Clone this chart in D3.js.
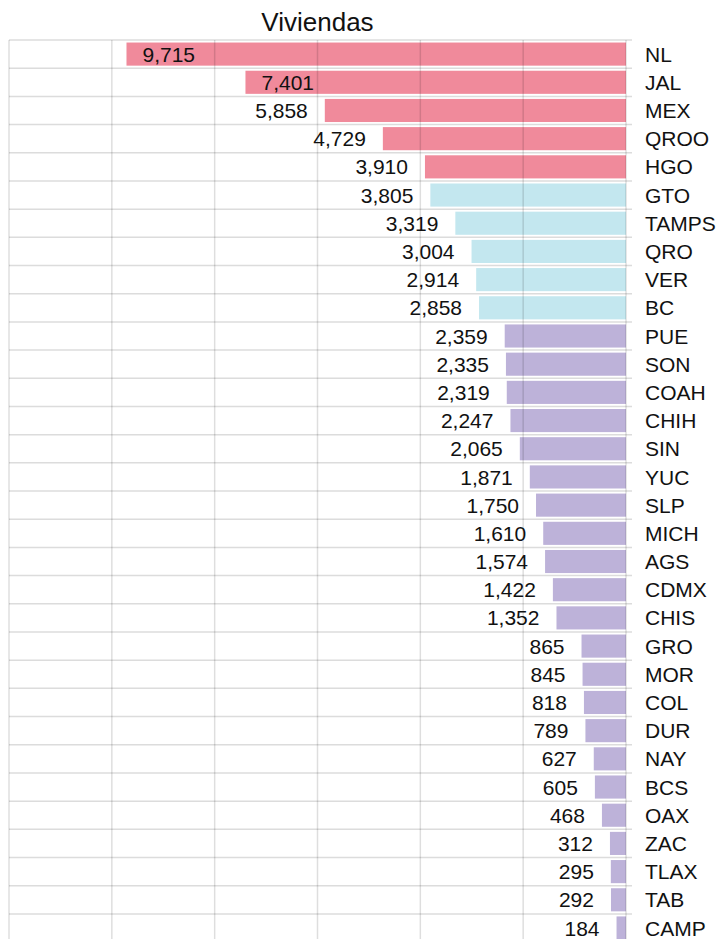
<!DOCTYPE html>
<html>
<head>
<meta charset="utf-8">
<script src="https://cdn.jsdelivr.net/npm/d3@7"></script>
<style>
  body { margin: 0; background: #fff; }
  svg { display: block; font-family: "Liberation Sans", Arial, sans-serif; }
</style>
</head>
<body>
<div id="chart"></div>
<script>
var states = ["NL", "JAL", "MEX", "QROO", "HGO", "GTO", "TAMPS", "QRO", "VER", "BC",
    "PUE", "SON", "COAH", "CHIH", "SIN", "YUC", "SLP", "MICH", "AGS", "CDMX", "CHIS",
    "GRO", "MOR", "COL", "DUR", "NAY", "BCS", "OAX", "ZAC", "TLAX", "TAB", "CAMP"];
var viviendas = [9715, 7401, 5858, 4729, 3910, 3805, 3319, 3004, 2914, 2858,
    2359, 2335, 2319, 2247, 2065, 1871, 1750, 1610, 1574, 1422, 1352,
    865, 845, 818, 789, 627, 605, 468, 312, 295, 292, 184];
var groups = [0, 0, 0, 0, 0, 1, 1, 1, 1, 1,
    2, 2, 2, 2, 2, 2, 2, 2, 2, 2, 2,
    2, 2, 2, 2, 2, 2, 2, 2, 2, 2, 2];
var groupColors = ["#f08a9b", "#c3e7ef", "#bdb2d9"];
var xTicks = [0, 2000, 4000, 6000, 8000, 10000, 12000];

(function () {
    var width = 720, height = 939;
    var plotLeft = 9, plotRight = 626, plotTop = 40;
    var step = 28.19;

    var data = states.map((s, i) => ({ state: s, value: viviendas[i], group: groups[i] }));

    var x = d3.scaleLinear().domain([0, 12000]).range([plotRight, plotLeft]);
    var y = d3.scaleBand()
        .domain(states)
        .range([plotTop, plotTop + step * states.length])
        .paddingInner(0.18)
        .paddingOuter(0.09);
    var color = d3.scaleOrdinal().domain([0, 1, 2]).range(groupColors);
    var fmt = d3.format(",");

    var svg = d3.select("#chart").append("svg")
        .attr("width", width)
        .attr("height", height);

    // title
    svg.append("text")
        .attr("x", (plotLeft + plotRight) / 2)
        .attr("y", 31)
        .attr("text-anchor", "middle")
        .attr("font-size", 26)
        .attr("fill", "#111")
        .text("Viviendas");

    // horizontal row separators
    var rowLines = d3.range(states.length + 1).map(i => plotTop + i * y.step());
    svg.append("g")
        .selectAll("line")
        .data(rowLines)
        .join("line")
        .attr("x1", plotLeft)
        .attr("x2", plotRight + 6)
        .attr("y1", d => d)
        .attr("y2", d => d)
        .attr("stroke", "#dcdcdc")
        .attr("stroke-width", 1.5);

    // bars
    svg.append("g")
        .selectAll("rect")
        .data(data)
        .join("rect")
        .attr("x", d => x(d.value))
        .attr("y", d => y(d.state))
        .attr("width", d => x(0) - x(d.value))
        .attr("height", y.bandwidth())
        .attr("fill", d => color(d.group));

    // vertical grid, drawn over the bars
    svg.append("g")
        .selectAll("line")
        .data(xTicks)
        .join("line")
        .attr("x1", d => x(d))
        .attr("x2", d => x(d))
        .attr("y1", plotTop)
        .attr("y2", height)
        .attr("stroke", "rgba(0,0,0,0.13)")
        .attr("stroke-width", 1.5);

    // value labels
    svg.append("g")
        .selectAll("text")
        .data(data)
        .join("text")
        .attr("x", d => d.value > 6000 ? x(d.value) + 16 : x(d.value) - 17)
        .attr("y", d => y(d.state) + y.bandwidth() / 2)
        .attr("dy", "0.36em")
        .attr("text-anchor", d => d.value > 6000 ? "start" : "end")
        .attr("font-size", 21)
        .attr("fill", "#111")
        .text(d => fmt(d.value));

    // state labels
    svg.append("g")
        .selectAll("text")
        .data(data)
        .join("text")
        .attr("x", plotRight + 19)
        .attr("y", d => y(d.state) + y.bandwidth() / 2)
        .attr("dy", "0.36em")
        .attr("font-size", 21)
        .attr("fill", "#111")
        .text(d => d.state);
})();
</script>
</body>
</html>
